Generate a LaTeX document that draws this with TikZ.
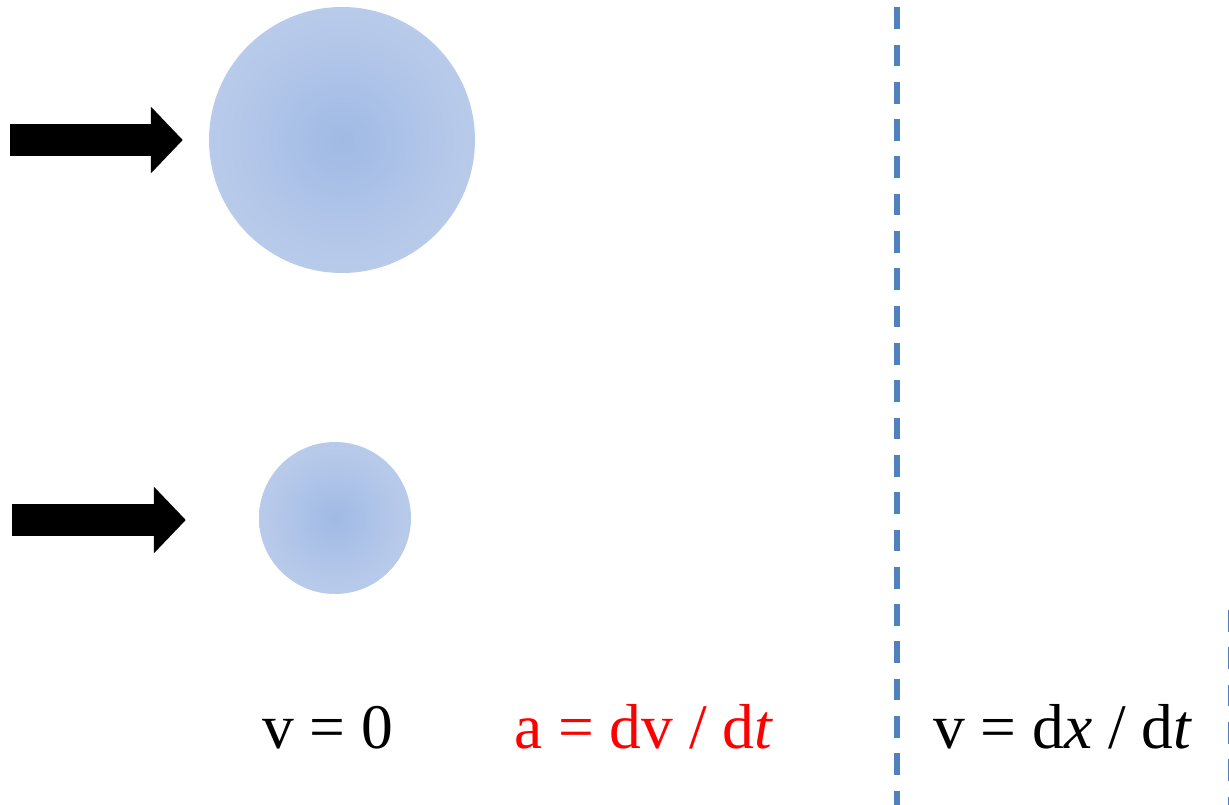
\documentclass[tikz,border=0pt]{standalone}
\usepackage{fontspec}
\setmainfont{Liberation Serif}
\usetikzlibrary{arrows.meta}

\definecolor{ballin}{RGB}{160,186,229}
\definecolor{ballout}{RGB}{206,217,239}
\definecolor{wallblue}{RGB}{79,129,189}
\pgfdeclareradialshading{ballshade}{\pgfpoint{0bp}{0bp}}{color(0bp)=(ballin); color(20bp)=(ballin!55!ballout); color(50bp)=(ballout); color(100bp)=(ballout)}

\begin{document}
\begin{tikzpicture}[x=1pt,y=-1pt,
        ball/.style={circle,inner sep=0pt,shading=ballshade},
        push/.style={line width=32pt,-{Triangle[length=32pt,width=65pt]}},
        wall/.style={wallblue,line width=5.5pt,dash pattern=on 21.7pt off 15.6pt},
        eqn/.style={anchor=base west,inner sep=0pt,font=\fontsize{63.5}{70}\selectfont}]
        \useasboundingbox (0,0) rectangle (1229,805);
        % balls
        \node[ball,minimum size=266pt] (bigball) at (342,140) {};
        \node[ball,minimum size=152pt] (smallball) at (335,518) {};
        % pushing arrows
        \coordinate (pushbig) at (10,140);
        \coordinate (pushsmall) at (12,520);
        \draw[push] (pushbig) -- ([xshift=-26pt]bigball.west);
        \draw[push] (pushsmall) -- ([xshift=-73pt]smallball.west |- pushsmall);
        % walls
        \coordinate (walltop) at (897,7.3);
        \coordinate (wallbot) at (897,805);
        \draw[wall] (walltop) -- (wallbot);
        \coordinate (edgetop) at (1230,610);
        \coordinate (edgebot) at (1230,805);
        \draw[wall,line width=4pt] (edgetop) -- (edgebot);
        % labels
        \node[eqn] (vzero) at (262,748) {v = 0};
        \node[eqn,red] (accel) at (514,748) {a = dv / d\textit{t}};
        \node[eqn] (veloc) at (933,748) {v = d\textit{x} / d\textit{t}};
    \end{tikzpicture}
\end{document}
